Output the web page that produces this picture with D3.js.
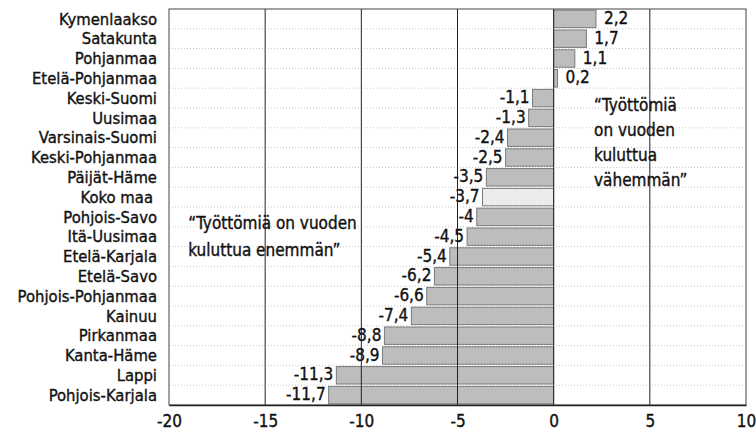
<!DOCTYPE html>
<html>
<head>
<meta charset="utf-8">
<script src="https://cdn.jsdelivr.net/npm/d3@7"></script>
<style>
  body { margin: 0; background: #fff; }
  svg { display: block; }
  text { font-family: "Liberation Sans Narrow", "Arial Narrow", "DejaVu Sans Condensed", sans-serif; fill: #111; stroke: #111; stroke-width: 0.35px; }
</style>
</head>
<body>
<div id="chart"></div>
<script>
// regions, top to bottom
var regions = ["Kymenlaakso", "Satakunta", "Pohjanmaa", "Etelä-Pohjanmaa", "Keski-Suomi",
    "Uusimaa", "Varsinais-Suomi", "Keski-Pohjanmaa", "Päijät-Häme", "Koko maa",
    "Pohjois-Savo", "Itä-Uusimaa", "Etelä-Karjala", "Etelä-Savo", "Pohjois-Pohjanmaa",
    "Kainuu", "Pirkanmaa", "Kanta-Häme", "Lappi", "Pohjois-Karjala"];
var changes = [2.2, 1.7, 1.1, 0.2, -1.1, -1.3, -2.4, -2.5, -3.5, -3.7,
    -4, -4.5, -5.4, -6.2, -6.6, -7.4, -8.8, -8.9, -11.3, -11.7];
var xTicks = [-20, -15, -10, -5, 0, 5, 10];
var totalLabel = "Koko maa";
var noteLess = ["\u201cTyöttömiä", "on vuoden", "kuluttua", "vähemmän\u201d"];
var noteMore = ["\u201cTyöttömiä on vuoden", "kuluttua enemmän\u201d"];

var data = regions.map(function(r, i) { return {name: r, value: changes[i]}; });

var margin = {top: 9, right: 10, bottom: 32, left: 169};
var width = 756 - margin.left - margin.right;
var height = 437 - margin.top - margin.bottom;

var svg = d3.select("#chart").append("svg")
    .attr("width", 756)
    .attr("height", 437)
    .append("g")
    .attr("transform", "translate(" + margin.left + "," + margin.top + ")");

var x = d3.scaleLinear().domain([-20, 10]).range([0, width]);
var y = d3.scaleBand().domain(regions).range([0, height]).paddingInner(0.12).paddingOuter(0.06);

var fmt = function(v) { return String(v).replace(".", ","); };

// dotted row lines between bars
var step = y.step();
svg.append("g").attr("class", "rows").selectAll("line")
    .data(regions.slice(1))
    .enter().append("line")
    .attr("x1", 0).attr("x2", width)
    .attr("y1", function(d) { return y(d) - step * y.paddingInner() / 2; })
    .attr("y2", function(d) { return y(d) - step * y.paddingInner() / 2; })
    .attr("stroke", "#c8c8c8")
    .attr("stroke-width", 1)
    .attr("stroke-dasharray", "1,2");

// bars
svg.append("g").attr("class", "bars").selectAll("rect")
    .data(data)
    .enter().append("rect")
    .attr("x", function(d) { return x(Math.min(0, d.value)); })
    .attr("y", function(d) { return y(d.name); })
    .attr("width", function(d) { return Math.abs(x(d.value) - x(0)); })
    .attr("height", y.bandwidth())
    .attr("fill", function(d) { return d.name === totalLabel ? "#ececec" : "#bdbdbd"; })
    .attr("stroke", "#7a7a7a")
    .attr("stroke-width", 1);

// vertical grid lines
svg.append("g").attr("class", "grid").selectAll("line")
    .data(xTicks.slice(1, -1))
    .enter().append("line")
    .attr("x1", function(d) { return x(d); }).attr("x2", function(d) { return x(d); })
    .attr("y1", 0).attr("y2", height)
    .attr("stroke", "#222")
    .attr("stroke-width", 1);

// frame
svg.append("rect")
    .attr("x", 0).attr("y", 0)
    .attr("width", width).attr("height", height)
    .attr("fill", "none")
    .attr("stroke", "#444")
    .attr("stroke-width", 1);

// x axis
var xAxis = d3.axisBottom(x).tickValues(xTicks).tickSize(0).tickPadding(10)
    .tickFormat(function(d) { return String(d); });
svg.append("g")
    .attr("class", "x axis")
    .attr("transform", "translate(0," + height + ")")
    .call(xAxis)
    .call(function(g) { g.select(".domain").attr("stroke", "#222").attr("stroke-width", 1.5); })
    .selectAll("text")
    .style("font-family", "\"Liberation Sans Narrow\", \"DejaVu Sans Condensed\", sans-serif")
    .style("font-size", "17px")
    .attr("fill", "#111");

// category labels
svg.append("g").attr("class", "names").selectAll("text")
    .data(data)
    .enter().append("text")
    .attr("x", function(d) { return d.name === totalLabel ? -16 : -12; })
    .attr("y", function(d) { return y(d.name) + y.bandwidth() / 2; })
    .attr("dy", "0.35em")
    .attr("text-anchor", "end")
    .style("font-size", "16.5px")
    .text(function(d) { return d.name; });

// value labels
svg.append("g").attr("class", "values").selectAll("text")
    .data(data)
    .enter().append("text")
    .attr("x", function(d) { return d.value < 0 ? x(d.value) - 3 : x(d.value) + 8; })
    .attr("y", function(d) { return y(d.name) + y.bandwidth() / 2; })
    .attr("dy", "0.3em")
    .attr("text-anchor", function(d) { return d.value < 0 ? "end" : "start"; })
    .style("font-size", "17px")
    .text(function(d) { return fmt(d.value); });

// annotations
svg.append("g").attr("class", "note").selectAll("text")
    .data(noteLess)
    .enter().append("text")
    .attr("x", x(2.1))
    .attr("y", function(d, i) { return 102 + i * 25; })
    .style("font-size", "17px")
    .text(function(d) { return d; });

svg.append("g").attr("class", "note").selectAll("text")
    .data(noteMore)
    .enter().append("text")
    .attr("x", x(-19))
    .attr("y", function(d, i) { return 220 + i * 27; })
    .style("font-size", "17px")
    .text(function(d) { return d; });
</script>
</body>
</html>
